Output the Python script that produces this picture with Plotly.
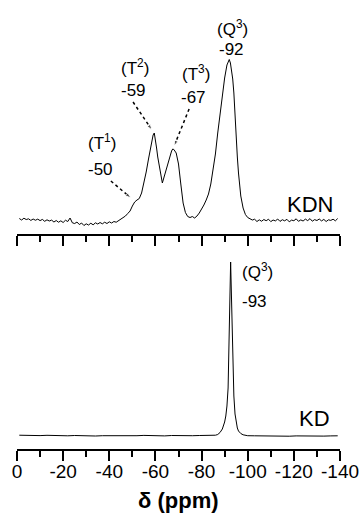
import plotly.graph_objects as go

# ---------------- data ----------------
# KDN spectrum (top panel): chemical shift (ppm) and intensity (a.u.)
kdn_ppm = [-1, -2, -3, -4, -5, -6, -7, -8, -9, -10, -11, -12, -13, -14, -15, -16, -17, -18, -19, -20,
           -21, -22, -23, -24, -25, -26, -27, -28, -29, -30, -31, -32, -33, -34, -35, -36, -37, -38, -39, -40,
           -41, -42, -43, -44, -45, -46, -47, -48, -49, -50, -51, -52, -53, -54, -55, -56, -57, -58, -58.5, -59,
           -59.5, -60, -60.5, -61, -62, -62.5, -63, -63.5, -64, -65, -66, -67, -67.5, -68, -69, -70, -71, -72, -73, -74,
           -75, -76, -77, -78, -79, -80, -81, -82, -83, -84, -85, -86, -87, -88, -89, -90, -91, -91.5, -92, -92.5,
           -93, -93.5, -94, -94.5, -95, -95.5, -96, -96.5, -97, -98, -99, -100, -101, -102, -103, -104, -105, -106, -107, -108,
           -109, -110, -111, -112, -113, -114, -115, -116, -117, -118, -119, -120, -121, -122, -123, -124, -125, -126, -127, -128,
           -129, -130, -131, -132, -133, -134, -135, -136, -137, -138, -139]
kdn_int = [2.5, 1.0, 2.8, 1.5, 2.2, 0.6, 2.0, 0.8, 1.9, 0.4, 1.6, -0.3, 1.2, 0.0, 0.9, -1.0, 0.5, -1.2, 0.2, -1.5,
           0.8, -0.5, 3.0, -1.8, -2.5, -1.0, -3.5, -2.0, -4.5, -2.8, -4.0, -2.2, -3.8, -1.8, -3.0, -1.5, -2.8, -1.2, -2.5, -0.8,
           -2.0, -0.5, -1.2, 0.5, 1.5, 3.0, 5.0, 7.5, 10.0, 15.0, 19.0, 21.0, 22.5, 28.0, 38.0, 49.0, 62.0, 74.0, 80.0, 86.0,
           88.0, 82.0, 73.0, 64.0, 50.0, 44.0, 38.0, 42.0, 46.0, 54.0, 63.0, 70.0, 72.0, 71.5, 68.0, 57.0, 37.0, 18.0, 8.5, 4.5,
           3.5, 4.5, 3.0, 5.0, 8.0, 11.5, 16.0, 21.0, 27.0, 37.0, 50.0, 67.0, 88.0, 107.0, 126.0, 143.0, 156.0, 160.0, 161.5, 158.0,
           152.0, 142.0, 128.0, 104.0, 82.0, 64.0, 48.0, 34.0, 25.0, 13.0, 6.5, 3.5, 2.5, 1.0, 1.8, -0.5, 1.2, -0.2, 1.5, 0.3,
           1.8, -0.6, 1.0, 0.1, 2.0, -0.4, 1.3, 0.2, 1.7, -0.8, 0.9, 0.3, 2.2, -0.3, 1.1, 0.0, 1.9, 0.4, 2.4, -0.2,
           1.4, 0.5, 2.0, 0.1, 1.6, -0.5, 1.2, 0.6, 1.8, 0.2, 2.5]

# KD spectrum (bottom panel)
kd_ppm = [-1, -4, -7, -10, -13, -16, -19, -22, -25, -28, -31, -34, -37, -40, -43, -46, -49, -52, -55, -58,
          -61, -64, -67, -70, -73, -76, -79, -82, -85, -86, -87, -88, -89, -89.5, -90, -90.5, -91, -91.5, -92, -92.3,
          -92.6, -92.9, -93.2, -93.5, -94, -94.5, -95, -95.5, -96, -97, -98, -99, -100, -103, -106, -109, -112, -115, -118, -121,
          -124, -127, -130, -133, -136, -139]
kd_int = [0.8, 0.5, 0.9, 0.4, 0.7, 0.3, 0.6, 0.2, 0.5, 0.1, 0.4, 0.0, 0.3, 0.2, 0.4, 0.1, 0.5, 0.3, 0.6, 0.2,
          0.4, 0.1, 0.5, 0.2, 0.4, 0.3, 0.5, 0.4, 0.5, 0.8, 1.5, 3.5, 7.0, 10.0, 14.0, 20.0, 30.0, 48.0, 90.0, 140.0,
          174.0, 140.0, 95.0, 70.0, 40.0, 22.0, 13.0, 8.0, 5.0, 2.5, 1.2, 0.6, 0.3, 0.2, 0.0, 0.2, -0.1, 0.1, -0.2, 0.1,
          -0.1, 0.0, 0.2, -0.1, 0.1, 0.2]

tick_vals = [0, -20, -40, -60, -80, -100, -120, -140]
tick_text = ["0", "-20", "-40", "-60", "-80", "-100", "-120", "-140"]
minor_vals = [-10, -30, -50, -70, -90, -110, -130]

# peak labels: (text, ppm, intensity)
kdn_labels = [("(Q<sup>3</sup>)", -93.2, 193), ("-92", -92.8, 172),
              ("(T<sup>2</sup>)", -51.1, 154), ("-59", -50.7, 131),
              ("(T<sup>3</sup>)", -77.6, 148), ("-67", -76.7, 124),
              ("(T<sup>1</sup>)", -36.8, 79), ("-50", -36.4, 52)]
# dotted pointers: (from ppm, from int, to ppm, to int)
kdn_pointers = [(-50.3, 119, -58.5, 91), (-74.6, 112, -68.1, 75), (-40.7, 40, -49.4, 23)]
kd_labels = [("(Q<sup>3</sup>)", -96.7, 165), ("-93", -96.7, 135)]

FONT = "Liberation Sans, Arial, sans-serif"

fig = go.Figure()
fig.add_trace(go.Scatter(x=kdn_ppm, y=kdn_int, mode="lines",
                         line=dict(color="black", width=1), xaxis="x", yaxis="y",
                         showlegend=False, hoverinfo="skip"))
fig.add_trace(go.Scatter(x=kd_ppm, y=kd_int, mode="lines",
                         line=dict(color="black", width=1), xaxis="x2", yaxis="y2",
                         showlegend=False, hoverinfo="skip"))
for x0, y0, x1, y1 in kdn_pointers:
    fig.add_trace(go.Scatter(x=[x0, x1], y=[y0, y1], mode="lines+markers",
                             line=dict(color="black", width=1.5, dash="dot"),
                             marker=dict(symbol="arrow", size=[0, 6], angleref="previous", color="black"),
                             xaxis="x", yaxis="y", showlegend=False, hoverinfo="skip"))

axis_common = dict(range=[0, -140], tickmode="array", tickvals=tick_vals, ticktext=tick_text,
                   ticks="outside", ticklen=10, tickwidth=2, tickcolor="black",
                   showline=True, linewidth=2, linecolor="black",
                   showgrid=False, zeroline=False, automargin=False, ticklabeloverflow="allow",
                   minor=dict(tickvals=minor_vals, ticks="outside", ticklen=6, tickwidth=2,
                              tickcolor="black", showgrid=False),
                   tickfont=dict(family=FONT, size=19, color="black"))

annotations = []
for text, x, y in kdn_labels:
    annotations.append(dict(text=text, x=x, y=y, xref="x", yref="y", showarrow=False,
                            font=dict(family=FONT, size=17, color="black"),
                            xanchor="center", yanchor="middle"))
for text, x, y in kd_labels:
    annotations.append(dict(text=text, x=x, y=y, xref="x2", yref="y2", showarrow=False,
                            font=dict(family=FONT, size=17, color="black"),
                            xanchor="left", yanchor="middle"))
annotations.append(dict(text="KDN", x=-137.8, y=17, xref="x", yref="y", showarrow=False,
                        font=dict(family=FONT, size=22, color="black"), xanchor="right", yanchor="middle"))
annotations.append(dict(text="KD", x=-136.5, y=18, xref="x2", yref="y2", showarrow=False,
                        font=dict(family=FONT, size=22, color="black"), xanchor="right", yanchor="middle"))
annotations.append(dict(text="<b>δ (ppm)</b>", x=0.5, y=-0.114, xref="paper", yref="paper", showarrow=False,
                        font=dict(family=FONT, size=22, color="black"), xanchor="center", yanchor="middle"))

fig.update_layout(
    width=359, height=520,
    margin=dict(l=17, r=19, t=0, b=71),
    paper_bgcolor="white", plot_bgcolor="white",
    font=dict(family=FONT, color="black"),
    xaxis=dict(domain=[0, 1], anchor="y", showticklabels=False, **axis_common),
    yaxis=dict(domain=[0.4788, 1], range=[-13, 221], visible=False),
    xaxis2=dict(domain=[0, 1], anchor="y2", showticklabels=True, ticklabelstandoff=-6, **axis_common),
    yaxis2=dict(domain=[0, 0.4432], range=[-13, 186], visible=False),
    annotations=annotations,
)

fig.write_html("out.html", config={"displayModeBar": False},
               post_script="document.body.style.margin='0';document.body.style.overflow='hidden';")
